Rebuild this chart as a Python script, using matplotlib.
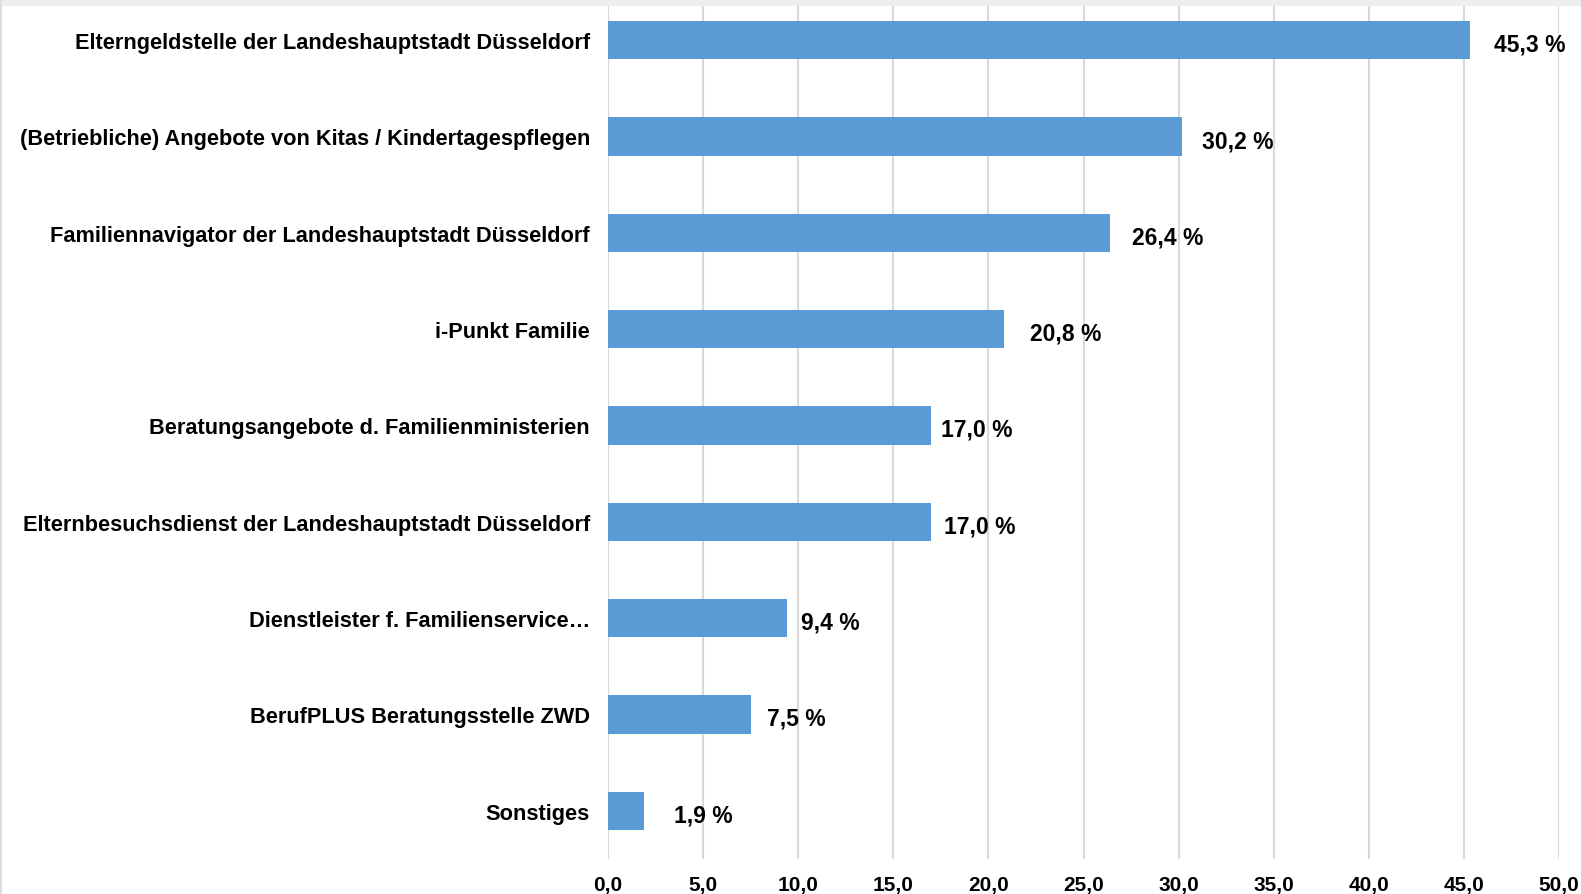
import matplotlib
matplotlib.use("Agg")
import matplotlib.pyplot as plt
from matplotlib.patches import Rectangle

categories = [
    "Elterngeldstelle der Landeshauptstadt Düsseldorf",
    "(Betriebliche) Angebote von Kitas / Kindertagespflegen",
    "Familiennavigator der Landeshauptstadt Düsseldorf",
    "i-Punkt Familie",
    "Beratungsangebote d. Familienministerien",
    "Elternbesuchsdienst der Landeshauptstadt Düsseldorf",
    "Dienstleister f. Familienservice…",
    "BerufPLUS Beratungsstelle ZWD",
    "Sonstiges",
]
values = [45.3, 30.2, 26.4, 20.8, 17.0, 17.0, 9.4, 7.5, 1.9]
xticks = [0, 5, 10, 15, 20, 25, 30, 35, 40, 45, 50]

# horizontal gap (pixels) between bar end and its value label, as placed in the original
label_gap_px = [24, 20, 22, 26, 10, 13, 14, 16, 30]

plt.rcParams['font.family'] = ['Liberation Sans', 'DejaVu Sans']
plt.rcParams['font.weight'] = 'bold'

W, H = 1581, 895
fig = plt.figure(figsize=(W / 100, H / 100), dpi=100)
fig.patch.set_facecolor('white')

left = 608 / W
right = 1559 / W
bottom = (H - 860) / H
top = (H + 7) / H
ax = fig.add_axes([left, bottom, right - left, top - bottom])

n = len(categories)
ypos = list(range(n))
ax.barh(ypos, values, height=0.395, color='#5B9BD5', zorder=3)
ax.set_ylim(n - 0.5, -0.5)
ax.set_xlim(0, 50)
ax.set_xticks(xticks)
ax.set_xticklabels([f"{t:.1f}".replace('.', ',') for t in xticks], fontsize=15, fontweight='bold')
ax.set_yticks(ypos)
ax.set_yticklabels(categories, fontsize=15.7, fontweight='bold')
ax.tick_params(axis='both', length=0)
ax.tick_params(axis='y', pad=13)
ax.tick_params(axis='x', pad=11.5)
ax.grid(axis='x', color='#d9d9d9', linewidth=1.5, zorder=0)
ax.grid(axis='y', visible=False)
for s in ax.spines.values():
    s.set_visible(False)

for y, v, g in zip(ypos, values, label_gap_px):
    ax.annotate(f"{v:.1f} %".replace('.', ','), xy=(v, y), xytext=(g, -4),
                textcoords='offset pixels', va='center', ha='left',
                fontsize=16.5, fontweight='bold', color='black', zorder=4)

# gray frame edges (top band and left strip)
fig.patches.append(Rectangle((0, 1 - 7 / H), 1, 7 / H, transform=fig.transFigure,
                             facecolor='#eeeeee', edgecolor='none', zorder=10))
fig.patches.append(Rectangle((0, 0), 2 / W, 1, transform=fig.transFigure,
                             facecolor='#dcdcdc', edgecolor='none', zorder=10))

fig.savefig("out.png", dpi=100, facecolor='white')
